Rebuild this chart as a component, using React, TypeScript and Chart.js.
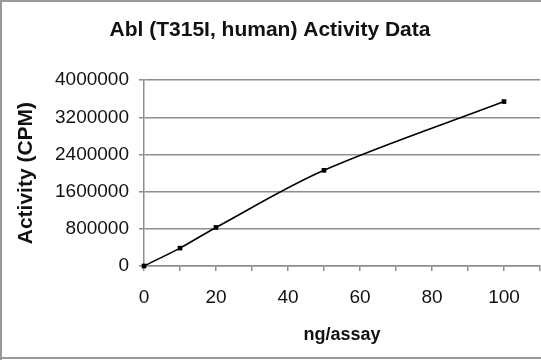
import React, { useEffect, useRef } from "react";
import { Chart, registerables } from "chart.js";

Chart.register(...registerables);

const titleText = "Abl (T315I, human) Activity Data";
const xTitle = "ng/assay";
const yTitle = "Activity (CPM)";
const doses = [0, 10, 20, 50, 100];
const activity = [0, 385000, 830000, 2060000, 3540000];
const xMin = 0;
const xMax = 110;
const xStep = 10;
const xLabelStep = 20;
const xLabelMax = 100;
const yMin = 0;
const yMax = 4000000;
const yStep = 800000;

const FONT = "'Liberation Sans', Arial, sans-serif";
const GRID = "#8e8e8e";

const framePlugin = {
  id: "frame",
  beforeDraw(chart: any) {
    const { ctx, width, height } = chart;
    ctx.save();
    ctx.fillStyle = "#ffffff";
    ctx.fillRect(0, 0, width, height);
    ctx.fillStyle = "#9a9a9a";
    ctx.fillRect(0, 0, width, 2);
    ctx.fillRect(0, 0, 2, height);
    ctx.fillRect(0, height - 3, width, 2);
    ctx.restore();
  },
};

export default function App() {
  const ref = useRef<HTMLCanvasElement | null>(null);
  useEffect(() => {
    document.body.style.margin = "0";
    if (!ref.current) return;
    const chart = new Chart(ref.current, {
      type: "line",
      data: {
        datasets: [
          {
            data: doses.map((d, i) => ({ x: d, y: activity[i] })),
            borderColor: "#000000",
            backgroundColor: "#000000",
            borderWidth: 1.6,
            pointStyle: "rect",
            pointRadius: 3.3,
            pointBorderWidth: 0,
            tension: 0.33,
            fill: false,
            clip: false,
          },
        ],
      },
      options: {
        responsive: false,
        animation: false,
        layout: { autoPadding: false, padding: { left: 0, right: 1, top: 0, bottom: 0 } },
        plugins: {
          legend: { display: false },
          tooltip: { enabled: false },
          title: {
            display: true,
            text: titleText,
            color: "#111111",
            font: { family: FONT, size: 21, weight: "bold" },
            padding: { top: 18, bottom: 37 },
          },
        },
        scales: {
          x: {
            type: "linear",
            min: xMin,
            max: xMax,
            afterFit(scale: any) {
              scale.height = 94;
              scale.paddingLeft = 0;
              scale.paddingRight = 0;
            },
            ticks: {
              stepSize: xStep,
              autoSkip: false,
              maxRotation: 0,
              padding: 15,
              color: "#111111",
              font: { family: FONT, size: 19 },
              callback: (v: any) =>
                Number(v) % xLabelStep === 0 && Number(v) <= xLabelMax ? String(v) : "",
            },
            grid: {
              drawOnChartArea: false,
              drawTicks: true,
              tickLength: 5,
              color: GRID,
              lineWidth: 1.5,
            },
            border: { display: true, color: GRID, width: 1.5 },
            title: {
              display: true,
              text: xTitle,
              color: "#111111",
              font: { family: FONT, size: 18, weight: "bold" },
              padding: { top: 0, bottom: 14 },
            },
          },
          y: {
            type: "linear",
            min: yMin,
            max: yMax,
            afterFit(scale: any) {
              scale.width = 144;
            },
            ticks: {
              stepSize: yStep,
              padding: 10,
              color: "#111111",
              font: { family: FONT, size: 19 },
              callback: (v: any) => String(v),
            },
            grid: {
              drawOnChartArea: true,
              drawTicks: true,
              tickLength: 5,
              color: GRID,
              lineWidth: 1.5,
            },
            border: { display: true, color: GRID, width: 1.5 },
            title: {
              display: true,
              text: yTitle,
              color: "#111111",
              font: { family: FONT, size: 21, weight: "bold" },
              padding: { top: 14, bottom: 0 },
            },
          },
        },
      },
      plugins: [framePlugin],
    });
    return () => chart.destroy();
  }, []);
  return (
    <div style={{ width: 541, height: 360 }}>
      <canvas ref={ref} width={541} height={360} style={{ display: "block" }} />
    </div>
  );
}
